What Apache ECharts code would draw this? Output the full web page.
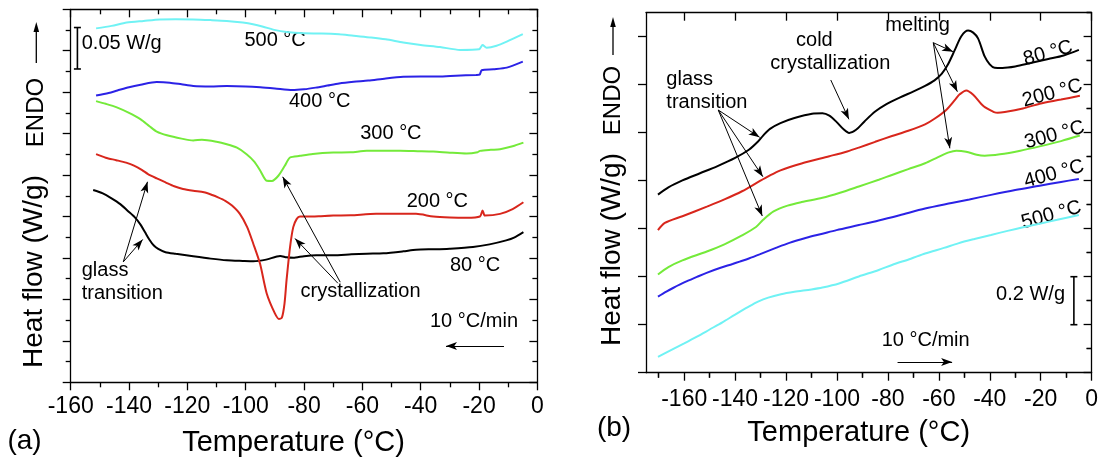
<!DOCTYPE html>
<html><head><meta charset="utf-8">
<script src="https://cdn.jsdelivr.net/npm/echarts@6/dist/echarts.min.js"></script>
<style>html,body{margin:0;padding:0;background:#fff}#c{width:1101px;height:463px}</style>
</head><body><div id="c"></div>
<script>
// ---------- Panel (a): cooling scans, [temperature °C, heat flow W/g (offset)] ----------
const coolA_80 = [[-152.3,0.232],[-149,0.228],[-146,0.222],[-143,0.215],[-140.5,0.207],[-138,0.199],[-136,0.19],[-134.5,0.181],[-133,0.172],[-131.5,0.165],[-130,0.161],[-127.5,0.157],[-124,0.155],[-118,0.152],[-112,0.1492],[-106.5,0.1472],[-101,0.1464],[-97.4,0.146],[-93,0.148],[-88.2,0.1525],[-86,0.1508],[-83.7,0.1502],[-80,0.1522],[-75.8,0.1532],[-70,0.1532],[-63.8,0.1544],[-58.5,0.1552],[-52.8,0.1556],[-46,0.158],[-41.6,0.160],[-35,0.1605],[-30.1,0.1612],[-22.1,0.1632],[-16.4,0.1664],[-10.7,0.1712],[-8,0.1745],[-4.8,0.1812]];
const coolA_200 = [[-151.3,0.2752],[-148,0.271],[-144.4,0.268],[-141,0.265],[-138.3,0.2615],[-135.5,0.256],[-133.5,0.2512],[-130.5,0.246],[-127.5,0.2412],[-124.5,0.2365],[-121.5,0.2332],[-118,0.231],[-114.3,0.2292],[-111.5,0.226],[-109.5,0.2232],[-107,0.219],[-104.7,0.2132],[-102,0.2032],[-99.5,0.1872],[-97.4,0.1672],[-95.1,0.1432],[-92.8,0.1072],[-90,0.0832],[-88.6,0.0765],[-87.6,0.078],[-86.7,0.095],[-86,0.1232],[-84.8,0.1632],[-83.7,0.1872],[-82.5,0.1972],[-81.4,0.2],[-79,0.2],[-75,0.2004],[-70,0.2012],[-64,0.2015],[-55.3,0.2032],[-48,0.2032],[-41.6,0.2032],[-35.7,0.2],[-30,0.1988],[-24.3,0.1984],[-19.7,0.2],[-18.8,0.2072],[-18,0.2012],[-12.8,0.2032],[-8.5,0.209],[-4.8,0.2172]];
const coolA_300 = [[-151.3,0.3392],[-148,0.336],[-144.4,0.332],[-140,0.325],[-136,0.3172],[-133,0.309],[-130.5,0.3024],[-127,0.298],[-122,0.294],[-118,0.2918],[-115,0.2926],[-110,0.2902],[-106.5,0.2872],[-103,0.283],[-99.7,0.2752],[-97,0.266],[-95,0.2552],[-92.8,0.2432],[-91,0.243],[-88.8,0.2492],[-86.6,0.2612],[-84.8,0.2712],[-81.4,0.2732],[-77,0.2755],[-70,0.2772],[-64,0.2775],[-58.5,0.2792],[-52,0.2792],[-47.1,0.2792],[-41,0.2788],[-35.7,0.2784],[-30,0.277],[-24.3,0.276],[-20.5,0.2775],[-19.7,0.2792],[-16,0.2805],[-12.8,0.2812],[-8.5,0.2848],[-4.8,0.2892]];
const coolA_400 = [[-151.3,0.346],[-147,0.349],[-144,0.352],[-140,0.356],[-136,0.359],[-130.5,0.3622],[-126,0.3615],[-122,0.3595],[-118,0.3575],[-112,0.357],[-106.5,0.3575],[-100,0.357],[-95,0.356],[-90,0.3545],[-84,0.3525],[-80,0.3535],[-76,0.3555],[-72,0.358],[-68,0.3605],[-63,0.3625],[-58,0.364],[-52,0.3665],[-46,0.3685],[-40,0.369],[-34,0.3688],[-28,0.3698],[-21,0.3708],[-19.8,0.3712],[-19.1,0.3765],[-15.1,0.3777],[-10.5,0.3796],[-5,0.3868]];
const coolA_500 = [[-151.3,0.427],[-146,0.430],[-140.8,0.434],[-135,0.436],[-129.4,0.4378],[-124,0.438],[-118,0.4378],[-112,0.437],[-106.5,0.436],[-101,0.434],[-97.5,0.432],[-94,0.429],[-90.6,0.4255],[-86,0.4225],[-80,0.421],[-74,0.4208],[-68,0.4198],[-63,0.418],[-57,0.416],[-52,0.4138],[-46,0.410],[-40,0.407],[-33.4,0.4045],[-26.5,0.401],[-20,0.4018],[-18.8,0.407],[-17.4,0.4037],[-14,0.406],[-10.5,0.411],[-5,0.420]];

// ---------- Panel (b): heating scans ----------
const heatB_80 = [[-170.3,0.742],[-166.2,0.772],[-160.7,0.801],[-153.8,0.831],[-146.9,0.861],[-140,0.895],[-134.6,0.929],[-131.1,0.962],[-129,0.988],[-126.3,1.016],[-122.2,1.040],[-116.7,1.061],[-109.8,1.079],[-105.7,1.081],[-103,1.071],[-100.2,1.045],[-97.4,1.014],[-95.2,0.999],[-92.5,1.012],[-89.2,1.047],[-85,1.088],[-80.9,1.117],[-75.4,1.146],[-69.9,1.172],[-65.4,1.195],[-61.7,1.218],[-58.9,1.245],[-56.5,1.283],[-53.7,1.345],[-51.1,1.403],[-48.5,1.426],[-46.5,1.417],[-44.6,1.393],[-42,1.318],[-40,1.285],[-38.1,1.271],[-35,1.27],[-30,1.276],[-24,1.29],[-17,1.307],[-11,1.322],[-5,1.345]];
const heatB_200 = [[-170.3,0.594],[-167.6,0.624],[-160.7,0.652],[-151.1,0.692],[-144.2,0.722],[-137.3,0.756],[-130.4,0.798],[-127,0.818],[-122.2,0.843],[-113.9,0.872],[-103,0.902],[-96,0.922],[-91.4,0.938],[-85,0.962],[-78.4,0.986],[-72,1.008],[-65.4,1.035],[-61.7,1.058],[-57,1.096],[-53.4,1.14],[-51.8,1.16],[-49.2,1.176],[-46.5,1.158],[-42.4,1.110],[-38.3,1.086],[-36.9,1.083],[-34.1,1.086],[-27,1.101],[-20.4,1.121],[-12,1.138],[-4.6,1.154]];
const heatB_300 = [[-170.3,0.409],[-166.2,0.44],[-160.7,0.468],[-151.1,0.505],[-144.2,0.535],[-137.3,0.572],[-131.8,0.607],[-129,0.637],[-124.9,0.672],[-119.4,0.696],[-113.9,0.711],[-105.7,0.729],[-98.8,0.75],[-91.4,0.776],[-83.6,0.804],[-78.4,0.824],[-72,0.848],[-65.4,0.8725],[-60.3,0.898],[-56.1,0.918],[-53.1,0.925],[-49.3,0.921],[-45.1,0.908],[-42,0.904],[-36,0.91],[-28,0.925],[-20.4,0.943],[-12,0.965],[-4.6,0.988]];
const heatB_400 = [[-170.3,0.317],[-167,0.338],[-164.2,0.354],[-160,0.376],[-155,0.399],[-151.2,0.416],[-146,0.436],[-141,0.453],[-138.2,0.463],[-134.6,0.476],[-130.4,0.493],[-124,0.52],[-118.7,0.541],[-112,0.562],[-105.7,0.579],[-100.2,0.594],[-91.4,0.615],[-83.6,0.634],[-75.4,0.656],[-65.4,0.684],[-55,0.707],[-48,0.722],[-39.5,0.741],[-30,0.761],[-20.4,0.779],[-12,0.795],[-5,0.807]];
const heatB_500 = [[-170.3,0.066],[-165,0.095],[-160,0.122],[-155,0.15],[-150,0.18],[-145,0.21],[-140,0.242],[-135,0.273],[-131,0.296],[-127,0.313],[-122,0.327],[-116.7,0.337],[-110,0.347],[-105.7,0.355],[-99.2,0.372],[-91.4,0.401],[-83.6,0.428],[-78.4,0.449],[-71,0.475],[-65.4,0.4965],[-58,0.52],[-52.4,0.539],[-46,0.557],[-39.5,0.574],[-33,0.591],[-26.5,0.607],[-20,0.622],[-13.5,0.637],[-5,0.657]];

const seriesNames = ['80 °C', '200 °C', '300 °C', '400 °C', '500 °C'];
const seriesColors = ['#000000', '#d8261c', '#74ea3a', '#2b22e6', '#70f2f4'];

// tick values
const xMajorB = [-160, -140, -120, -100, -80, -60, -40, -20, 0];
const xMinorB = [-170, -150, -130, -110, -90, -70, -50, -30, -10];
const yMajorB = [0, 0.2, 0.4, 0.6, 0.8, 1.0, 1.2, 1.4];
const yMinorB = [0.1, 0.3, 0.5, 0.7, 0.9, 1.1, 1.3, 1.5];

// annotations (data coordinates): arrows [x1,y1,x2,y2]
const arrowsA = [[-141.97,0.1453,-133.67,0.2419],[-141.97,0.1453,-135.32,0.1723],[-67.6,0.1208,-87.32,0.2479],[-68.4,0.1195,-83.1,0.1735],[-11.46,0.0438,-31.34,0.0438]];
const arrowsB = [[-146.63,1.0946,-130.38,0.9808],[-146.63,1.0946,-129.1,0.8167],[-146.63,1.0946,-129.33,0.6529],[-102.44,1.2196,-95.31,1.0558],[-62.18,1.375,-54.39,1.3375],[-62.18,1.375,-52.71,1.1708],[-62.18,1.375,-55.67,0.935],[-76.21,0.0446,-54.78,0.0446]];
const textsA = [['500 °C',-100.45,0.4118],['400 °C',-85.16,0.3382],['300 °C',-60.75,0.3007],['200 °C',-44.81,0.2178],['80 °C',-29.97,0.1413],['glass',-156.23,0.1353],['transition',-156.23,0.1071],['crystallization',-81.22,0.1091],['10 °C/min',-36.82,0.0728],['0.05 W/g',-156.23,0.409]];
const textsB = [['glass',-167.01,1.2238],['transition',-167.01,1.125],['cold',-116.08,1.383],['crystallization',-126.21,1.289],['melting',-81.0,1.4488],['0.2 W/g',-37.51,0.324],['10 °C/min',-82.45,0.136]];
const curveLabelsB = [['80 °C',-17.09,1.331],['200 °C',-15.42,1.164],['300 °C',-14.52,0.990],['400 °C',-14.75,0.828],['500 °C',-15.81,0.657]];
const scaleBarA = [-157.7, 0.378, 0.428];
const scaleBarB = [-6.96, 0.2, 0.4];

const FONT = "'Liberation Sans', Arial, Helvetica, sans-serif";
const LS = {color: '#000', width: 1.3};

function xAx(grid, pos, inside, opts) {
  return Object.assign({
    type: 'value', gridIndex: grid, position: pos,
    axisLine: {show: true, onZero: false, lineStyle: LS},
    axisTick: {show: true, inside: inside, length: 8, lineStyle: LS},
    axisLabel: {show: false},
    splitLine: {show: false}, minorSplitLine: {show: false}
  }, opts);
}
function yAx(grid, pos, inside, opts) { return xAx(grid, pos, inside, opts); }

const labelStyle = {show: true, fontSize: 23, color: '#000', fontFamily: FONT};

const option = {
  animation: false,
  backgroundColor: '#fff',
  grid: [
    {left: 70.7, top: 9.3, width: 466.7, height: 373},
    {left: 646, top: 12.7, width: 448.6, height: 360}
  ],
  xAxis: [
    xAx(0, 'bottom', false, {min: -160, max: 0, interval: 20, minorTick: {show: true, splitNumber: 2, length: 5, lineStyle: LS}, axisLabel: Object.assign({margin: 13}, labelStyle)}),
    xAx(0, 'top', true, {min: -160, max: 0, interval: 20, minorTick: {show: true, splitNumber: 2, length: 5, lineStyle: LS}}),
    xAx(1, 'bottom', false, {min: -175, max: 0, axisTick: {show: true, inside: false, length: 8, lineStyle: LS, customValues: xMajorB}, axisLabel: Object.assign({margin: 15, customValues: xMajorB}, labelStyle)}),
    xAx(1, 'bottom', false, {min: -175, max: 0, axisLine: {show: false}, axisTick: {show: true, inside: false, length: 5, lineStyle: LS, customValues: xMinorB}}),
    xAx(1, 'top', true, {min: -175, max: 0, axisTick: {show: true, inside: true, length: 8, lineStyle: LS, customValues: xMajorB}}),
    xAx(1, 'top', true, {min: -175, max: 0, axisLine: {show: false}, axisTick: {show: true, inside: true, length: 5, lineStyle: LS, customValues: xMinorB}})
  ],
  yAxis: [
    yAx(0, 'left', false, {min: 0, max: 0.45, interval: 0.05, minorTick: {show: true, splitNumber: 2, length: 5, lineStyle: LS}}),
    yAx(0, 'right', true, {min: 0, max: 0.45, interval: 0.05, minorTick: {show: true, splitNumber: 2, length: 5, lineStyle: LS}}),
    yAx(1, 'left', false, {min: 0, max: 1.5, axisTick: {show: true, inside: false, length: 8, lineStyle: LS, customValues: yMajorB}}),
    yAx(1, 'left', false, {min: 0, max: 1.5, axisLine: {show: false}, axisTick: {show: true, inside: false, length: 5, lineStyle: LS, customValues: yMinorB}}),
    yAx(1, 'right', true, {min: 0, max: 1.5, axisTick: {show: true, inside: true, length: 8, lineStyle: LS, customValues: yMajorB}}),
    yAx(1, 'right', true, {min: 0, max: 1.5, axisLine: {show: false}, axisTick: {show: true, inside: true, length: 5, lineStyle: LS, customValues: yMinorB}})
  ],
  series: []
};

const dataA = [coolA_80, coolA_200, coolA_300, coolA_400, coolA_500];
const dataB = [heatB_80, heatB_200, heatB_300, heatB_400, heatB_500];
function mkArrows(list) {
  return {
    silent: true, symbol: ['none', 'arrow'], symbolSize: [6, 11], animation: false,
    lineStyle: {color: '#000', width: 1, type: 'solid'}, label: {show: false},
    emphasis: {disabled: true},
    data: list.map(a => [{coord: [a[0], a[1]]}, {coord: [a[2], a[3]]}])
  };
}
dataA.forEach((d, i) => option.series.push({
  name: 'a ' + seriesNames[i], type: 'line', xAxisIndex: 0, yAxisIndex: 0, data: d,
  showSymbol: false, symbol: 'none', smooth: 0.25, silent: true,
  lineStyle: {color: seriesColors[i], width: 2}, itemStyle: {color: seriesColors[i]},
  markLine: i === 0 ? mkArrows(arrowsA) : undefined
}));
dataB.forEach((d, i) => option.series.push({
  name: 'b ' + seriesNames[i], type: 'line', xAxisIndex: 2, yAxisIndex: 2, data: d,
  showSymbol: false, symbol: 'none', smooth: 0.3, silent: true,
  lineStyle: {color: seriesColors[i], width: 2}, itemStyle: {color: seriesColors[i]},
  markLine: i === 0 ? mkArrows(arrowsB) : undefined
}));

const chart = echarts.init(document.getElementById('c'), null, {renderer: 'canvas'});
chart.setOption(option);

const px = (si, p) => chart.convertToPixel({seriesIndex: si}, p);
const g = [];
function txt(x, y, s, size, align, rot) {
  g.push({type: 'text', x: x, y: y, rotation: rot || 0, silent: true,
    style: {text: s, fontSize: size, fontFamily: FONT, fill: '#000', align: align || 'left', verticalAlign: 'middle'}});
}
function line(x1, y1, x2, y2, w) {
  g.push({type: 'line', silent: true, shape: {x1, y1, x2, y2}, style: {stroke: '#000', lineWidth: w || 1.5}});
}
textsA.forEach(t => { const p = px(0, [t[1], t[2]]); txt(p[0], p[1], t[0], 20, 'left'); });
textsB.forEach(t => { const p = px(5, [t[1], t[2]]); txt(p[0], p[1], t[0], 20, 'left'); });
curveLabelsB.forEach(t => { const p = px(5, [t[1], t[2]]); txt(p[0], p[1], t[0], 20, 'center', 0.27); });
[[0, scaleBarA], [5, scaleBarB]].forEach(([si, b]) => {
  const p1 = px(si, [b[0], b[1]]), p2 = px(si, [b[0], b[2]]);
  line(p1[0], p1[1], p2[0], p2[1], 1.6);
  line(p1[0] - 3.5, p1[1], p1[0] + 3.5, p1[1], 1.6);
  line(p2[0] - 3.5, p2[1], p2[0] + 3.5, p2[1], 1.6);
});
// axis titles and panel tags
txt(293.5, 443, 'Temperature (°C)', 29, 'center');
txt(858.7, 432.5, 'Temperature (°C)', 29, 'center');
txt(24.5, 441, '(a)', 28, 'center');
txt(614, 428.5, '(b)', 28, 'center');
txt(34.5, 271.5, 'Heat flow (W/g)', 28, 'center', Math.PI / 2);
txt(36, 112.5, 'ENDO', 24, 'center', Math.PI / 2);
txt(612, 249.5, 'Heat flow (W/g)', 28, 'center', Math.PI / 2);
txt(613, 100.5, 'ENDO', 24, 'center', Math.PI / 2);
function upArrow(x, yb, yt) {
  line(x, yb, x, yt + 6, 1.3);
  g.push({type: 'polygon', silent: true, shape: {points: [[x, yt], [x - 2.8, yt + 10], [x + 2.8, yt + 10]]}, style: {fill: '#000'}});
}
upArrow(36.3, 63, 22);
upArrow(613, 55, 17);
chart.setOption({graphic: g});
</script></body></html>
